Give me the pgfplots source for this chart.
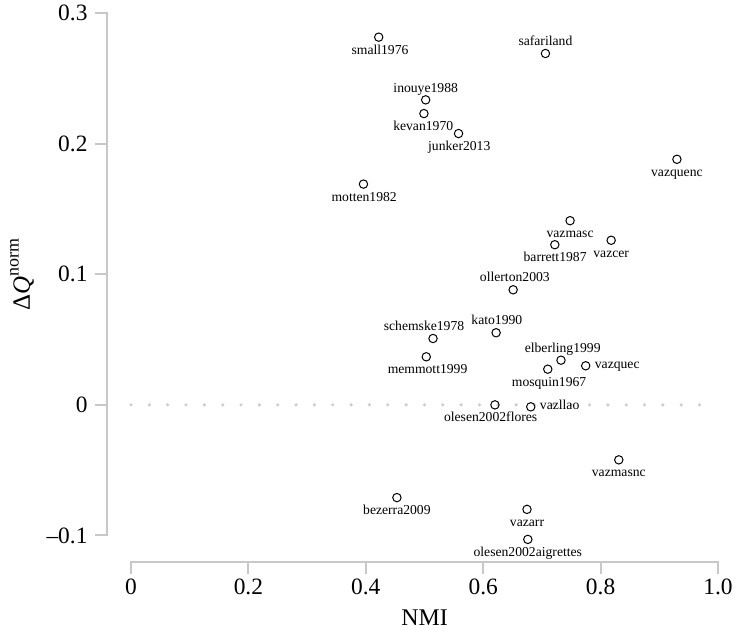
\documentclass[border=0pt]{standalone}
\usepackage{pgfplots}
\pgfplotsset{compat=1.18}
\usepackage{pgfplotstable}
\usepackage{fontspec}
\setmainfont{Liberation Serif}
\definecolor{axgray}{RGB}{200,200,200}
\definecolor{dotgray}{RGB}{206,206,206}

% data points
\pgfplotstableread{
x y
0.422 0.2815
0.706 0.269
0.502 0.2335
0.499 0.223
0.558 0.2077
0.930 0.188
0.396 0.169
0.748 0.141
0.818 0.126
0.722 0.1226
0.651 0.0881
0.5145 0.0508
0.622 0.0552
0.503 0.0368
0.7325 0.0342
0.710 0.0273
0.7746 0.0299
0.620 0.0
0.681 -0.0015
0.831 -0.0421
0.453 -0.071
0.6746 -0.080
0.676 -0.103
}\pts

% label positions (text baselines), below points
\pgfplotstableread{
x y lab
0.4242 0.2685 small1976
0.4978 0.2100 kevan1970
0.5592 0.1947 junker2013
0.930 0.1750 vazquenc
0.3972 0.1560 motten1982
0.748 0.1280 vazmasc
0.818 0.1130 vazcer
0.7225 0.1096 barrett1987
0.5052 0.0238 memmott1999
0.7122 0.0143 mosquin1967
0.6127 -0.0130 olesen2002flores
0.831 -0.0551 vazmasnc
0.453 -0.0840 bezerra2009
0.6746 -0.0930 vazarr
0.676 -0.1160 olesen2002aigrettes
}\below

% labels above points
\pgfplotstableread{
x y lab
0.706 0.2751 safariland
0.502 0.2392 inouye1988
0.6539 0.0946 ollerton2003
0.4992 0.0569 schemske1978
0.6232 0.0613 kato1990
0.7354 0.0403 elberling1999
}\above

% labels right of points
\pgfplotstableread{
x y lab
0.7899 0.0280 vazquec
0.6963 -0.0034 vazllao
}\right

\begin{document}
\begin{tikzpicture}
\path[use as bounding box] (-107bp,-68bp) rectangle (628bp,562bp);
\begin{axis}[
  at={(0,0)}, anchor=south west,
  scale only axis, width=611bp, height=549bp,
  xmin=-0.0409, xmax=1.0, ymin=-0.1203, ymax=0.3,
  clip=false,
  axis x line*=bottom, axis y line*=left,
  axis line style={draw=none},
  xtick={0,0.2,0.4,0.6,0.8,1.0},
  xticklabels={0,0.2,0.4,0.6,0.8,1.0},
  ytick={-0.1,0,0.1,0.2,0.3},
  yticklabels={--0.1,0,0.1,0.2,0.3},
  tick align=outside, major tick length=11bp,
  every tick/.style={axgray, line width=2bp, line cap=rect},
  xtick style={axgray, line width=2bp, line cap=rect},
  ytick style={axgray, line width=2bp, line cap=rect},
  xticklabel style={font=\fontsize{23.5}{23.5}\selectfont, black, yshift=-2bp},
  yticklabel style={font=\fontsize{23.5}{23.5}\selectfont, black, xshift=-5bp},
  every axis x label/.style={at={(axis description cs:0.5197,-0.102)}, anchor=center, font=\fontsize{24}{24}\selectfont},
  every axis y label/.style={at={(axis description cs:-0.1392,0.524)}, anchor=center, rotate=90, font=\fontsize{25}{25}\selectfont},
  xlabel={NMI},
  ylabel={Δ\textit{Q}\raisebox{0.45em}{\fontsize{18}{18}\selectfont norm}},
  labelstyle/.style={only marks, mark=none, point meta=explicit symbolic, nodes near coords,
    every node near coord/.append style={inner sep=0pt, font=\fontsize{13.7}{13.7}\selectfont, black}},
]
\addplot[dotgray, line width=3.6bp, line cap=round, dash pattern=on 0bp off 18.34bp, forget plot] coordinates {(0,0) (0.97,0)};
\draw[axgray, line width=2bp, line cap=rect] (axis cs:0,-0.1203) -- (axis cs:1,-0.1203);
\draw[axgray, line width=2bp, line cap=rect] (axis cs:-0.0409,-0.1) -- (axis cs:-0.0409,0.3);
\addplot[only marks, mark=o, mark size=4.2bp, mark options={line width=1bp, black}] table[x=x, y=y] {\pts};
\addplot[labelstyle, every node near coord/.append style={anchor=base}] table[x=x, y=y, meta=lab] {\below};
\addplot[labelstyle, every node near coord/.append style={anchor=base}] table[x=x, y=y, meta=lab] {\above};
\addplot[labelstyle, every node near coord/.append style={anchor=base west}] table[x=x, y=y, meta=lab] {\right};
\end{axis}
\end{tikzpicture}
\end{document}
